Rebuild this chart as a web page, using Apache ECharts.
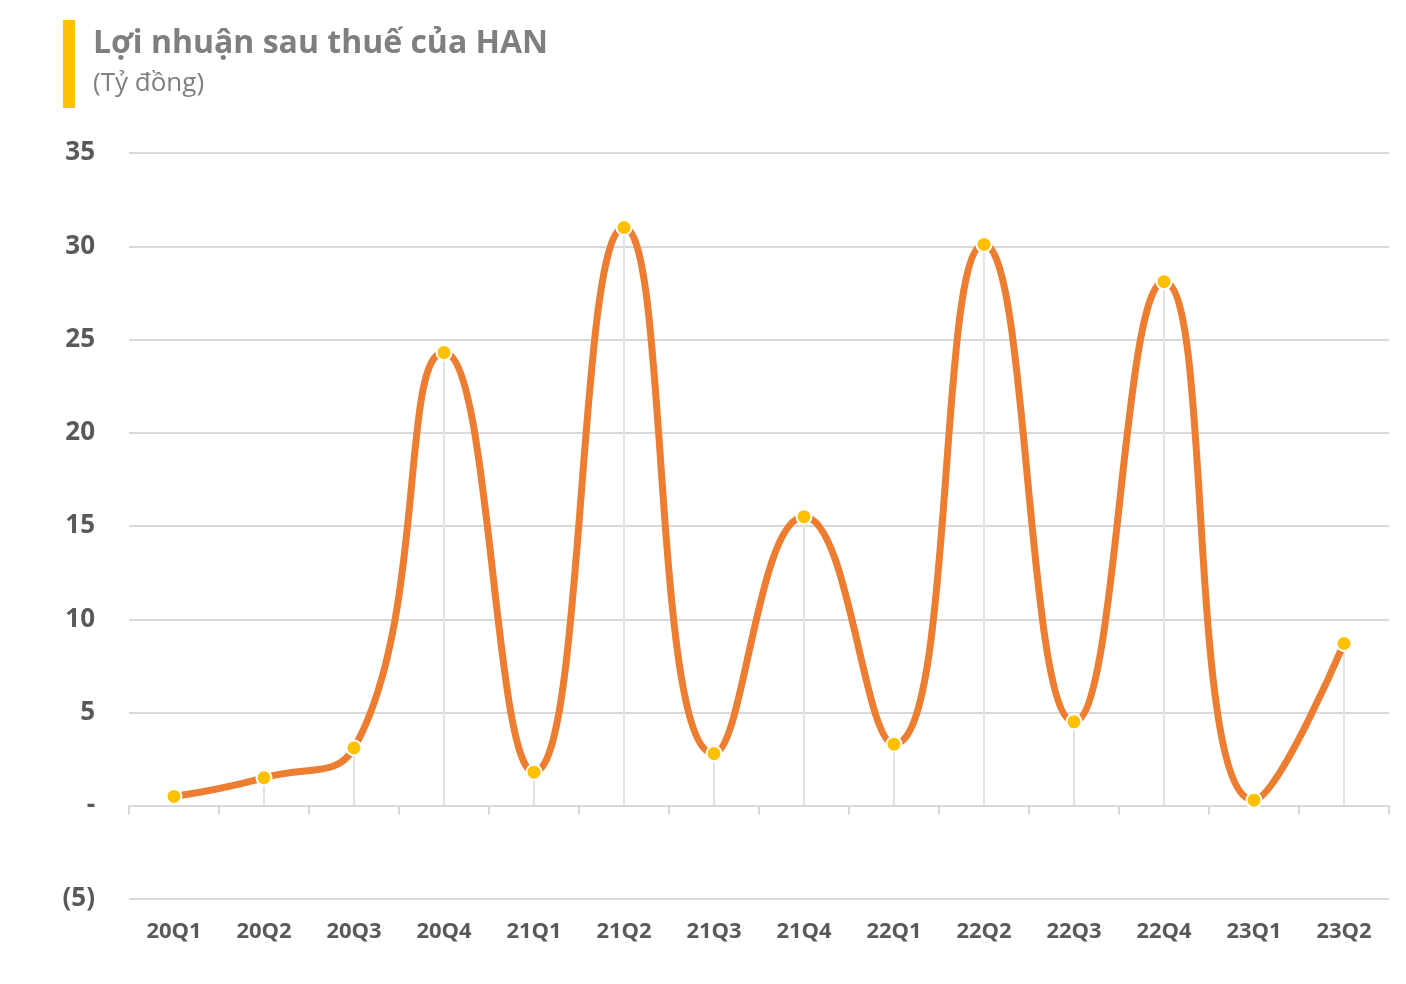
<!DOCTYPE html>
<html>
<head>
<meta charset="utf-8">
<title>Lợi nhuận sau thuế của HAN</title>
<script src="https://cdn.jsdelivr.net/npm/echarts@6/dist/echarts.min.js"></script>
<style>
    html, body { margin: 0; padding: 0; background: #fff; }
    #chart { width: 1406px; height: 984px; }
</style>
</head>
<body>
<div id="chart"></div>
<script>
    // quý và lợi nhuận (tỷ đồng)
    const quarters = ['20Q1', '20Q2', '20Q3', '20Q4', '21Q1', '21Q2', '21Q3', '21Q4',
        '22Q1', '22Q2', '22Q3', '22Q4', '23Q1', '23Q2']
    const profit = [0.5, 1.5, 3.1, 24.3, 1.8, 31.0, 2.8, 15.5, 3.3, 30.1, 4.5, 28.1, 0.3, 8.7]
    const yTicks = { '-5': '(5)', '0': '-' }

    const chart = echarts.init(document.getElementById('chart'))
    const font = '"Open Sans", "Noto Sans", sans-serif'

    chart.setOption({
        animation: false,
        textStyle: { fontFamily: font },
        title: {
            text: 'Lợi nhuận sau thuế của HAN',
            subtext: '(Tỷ đồng)',
            left: 88,
            top: 23,
            itemGap: 11,
            textStyle: { fontSize: 32, fontWeight: 'bold', color: '#7f7f7f', fontFamily: font },
            subtextStyle: { fontSize: 26, color: '#7f7f7f', fontFamily: font }
        },
        graphic: [{
            type: 'rect',
            left: 63,
            top: 20,
            shape: { width: 12, height: 88 },
            style: { fill: '#ffc000' }
        }],
        grid: { left: 129, right: 17, top: 153, bottom: 85 },
        xAxis: [{
            type: 'category',
            data: quarters,
            axisLine: { onZero: true, lineStyle: { color: '#d9d9d9', width: 2 } },
            axisTick: { show: true, length: 9, lineStyle: { color: '#d9d9d9', width: 2 } },
            axisLabel: { show: false },
            splitLine: { show: false }
        }, {
            type: 'category',
            data: quarters,
            position: 'bottom',
            axisLine: { show: false, onZero: false },
            axisTick: { show: false },
            axisLabel: { margin: 22, fontSize: 22, fontWeight: 'bold', color: '#595959', fontFamily: font }
        }],
        yAxis: {
            type: 'value',
            min: -5,
            max: 35,
            interval: 5,
            axisLine: { show: false },
            axisTick: { show: false },
            axisLabel: {
                margin: 34,
                fontSize: 26,
                fontWeight: 'bold',
                color: '#595959',
                fontFamily: font,
                formatter: v => yTicks[v] || String(v)
            },
            splitLine: { lineStyle: { color: '#d9d9d9', width: 2 } }
        },
        series: [{
            // đường gióng từ điểm xuống trục 0
            type: 'bar',
            data: profit,
            barWidth: 2,
            itemStyle: { color: '#e3e3e3' },
            silent: true,
            z: 1
        }, {
            type: 'line',
            data: profit,
            smooth: 0.5,
            symbol: 'circle',
            symbolSize: 15,
            lineStyle: { color: '#ed7d31', width: 7 },
            itemStyle: { color: '#ffc000', borderColor: '#fff', borderWidth: 2 },
            z: 3
        }]
    })
</script>
</body>
</html>
